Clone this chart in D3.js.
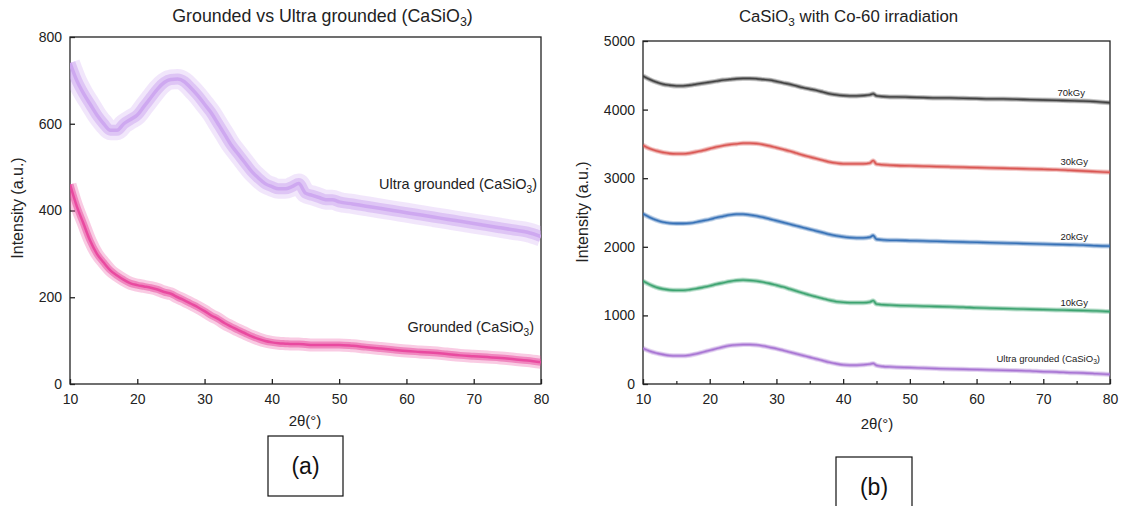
<!DOCTYPE html>
<html><head><meta charset="utf-8">
<script src="https://cdn.jsdelivr.net/npm/d3@7"></script>
<style>body{margin:0;background:#fff}svg{display:block}text{font-family:"Liberation Sans",Arial,sans-serif;fill:#222}</style>
</head><body><svg id="c" width="1122" height="506"></svg>
<script>
// ---------- data ----------
const xTicks = [10,20,30,40,50,60,70,80];
const yTicksA = [0,200,400,600,800];
const yTicksB = [0,1000,2000,3000,4000,5000];

const thetaA = [10,11,12,13,14,15,16,17,18,19,20,21,22,23,24,25,26,27,28,29,30,31,32,33,34,35,36,37,38,39,40,41,42,43,44,45,46,47,48,49,50,52,54,56,58,60,62,64,66,68,70,72,74,76,78,80];
const ultraA = [740,700,670,645,620,600,585,585,600,610,620,640,660,680,695,702,703,697,682,665,645,625,600,575,550,530,510,490,475,462,455,450,450,455,462,440,435,430,425,425,420,415,410,405,400,395,390,385,380,375,370,365,360,355,350,340];
const groundedA = [460,410,370,330,300,280,262,250,240,232,228,225,222,218,212,208,200,193,185,177,168,158,150,140,132,124,117,110,104,99,96,94,93,92,92,91,90,90,90,90,90,88,85,82,79,76,74,72,69,66,64,62,60,57,54,50];

const thetaB = [10,11,12,13,14,15,16,17,18,19,20,21,22,23,24,25,26,27,28,29,30,31,32,33,34,35,36,37,38,39,40,41,42,43,44,44.5,45,46,47,48,50,52,54,56,58,60,62,64,66,68,70,72,74,76,78,80];
const kGy70 = [4490,4440,4400,4370,4355,4345,4345,4355,4370,4385,4400,4415,4430,4440,4450,4455,4455,4450,4440,4430,4410,4390,4370,4345,4320,4300,4280,4255,4230,4215,4205,4200,4200,4205,4215,4230,4200,4190,4185,4185,4180,4175,4170,4170,4165,4160,4155,4155,4150,4145,4140,4135,4130,4125,4115,4100];
const kGy30 = [3480,3430,3400,3375,3360,3355,3355,3365,3385,3405,3430,3455,3475,3490,3500,3510,3510,3505,3490,3470,3445,3420,3395,3365,3335,3310,3285,3260,3235,3220,3210,3210,3210,3210,3220,3255,3205,3195,3190,3185,3180,3175,3170,3165,3160,3155,3150,3145,3140,3135,3130,3125,3115,3105,3095,3085];
const kGy20 = [2480,2430,2390,2360,2345,2340,2340,2345,2360,2380,2400,2425,2445,2465,2475,2475,2465,2450,2430,2405,2380,2355,2330,2305,2280,2255,2230,2205,2180,2160,2145,2135,2130,2130,2140,2165,2110,2100,2095,2095,2090,2085,2080,2075,2070,2065,2060,2055,2050,2045,2040,2035,2030,2025,2015,2010];
const kGy10 = [1500,1450,1410,1385,1370,1365,1365,1375,1390,1410,1430,1455,1475,1495,1510,1515,1510,1500,1485,1465,1440,1415,1385,1355,1325,1295,1270,1245,1220,1200,1190,1185,1185,1185,1195,1215,1165,1155,1150,1145,1140,1135,1130,1125,1120,1110,1105,1100,1095,1090,1085,1080,1075,1070,1065,1055];
const ultraB = [520,480,450,430,415,410,410,420,440,465,490,515,540,560,570,575,575,570,555,535,515,490,465,440,415,390,365,340,315,295,280,275,275,280,290,300,270,255,250,245,240,232,225,220,215,210,205,200,195,190,180,175,165,160,150,140];

const seriesB = [
  {name:"70kGy", values:kGy70, color:"#3a3a3a", label:[1085,96]},
  {name:"30kGy", values:kGy30, color:"#d8504c", label:[1088,165]},
  {name:"20kGy", values:kGy20, color:"#2f6cb4", label:[1088,240]},
  {name:"10kGy", values:kGy10, color:"#35a06a", label:[1088,306]},
  {name:"Ultra grounded (CaSiO|3|)", values:ultraB, color:"#a46fd2", label:[1100,362]}
];

// ---------- helpers ----------
const svg = d3.select("#c");
function richText(sel, str, size){
  const parts = str.split("|");
  parts.forEach((p,i)=>{
    if(!p) return;
    if(i%2===1){
      sel.append("tspan").attr("font-size", size*0.7).attr("dy", size*0.25).text(p);
    } else {
      const t = sel.append("tspan").text(p);
      if(i>0) t.attr("dy", -size*0.25);
    }
  });
  return sel;
}

function panel(o){
  const x = d3.scaleLinear().domain([10,80]).range([o.x0,o.x1]);
  const y = d3.scaleLinear().domain([0,o.ymax]).range([o.y1,o.y0]);
  const g = svg.append("g");
  g.append("rect").attr("x",o.x0).attr("y",o.y0).attr("width",o.x1-o.x0).attr("height",o.y1-o.y0)
    .attr("fill","none").attr("stroke","#222").attr("stroke-width",1.3);
  const xa = g.append("g").attr("transform",`translate(0,${o.y1})`)
    .call(d3.axisBottom(x).tickValues(xTicks).tickSizeInner(-5).tickSizeOuter(0).tickPadding(10).tickFormat(d3.format("d")));
  xa.select(".domain").remove();
  xa.selectAll("text").attr("font-size",14).attr("font-family","Liberation Sans, Arial").attr("fill","#222");
  xa.selectAll("line").attr("stroke","#222").attr("stroke-width",1.3);
  if(o.minor){
    const mx = g.append("g").attr("transform",`translate(0,${o.y1})`)
      .call(d3.axisBottom(x).tickValues(o.minor).tickSizeInner(-3).tickSizeOuter(0).tickFormat(""));
    mx.select(".domain").remove();
    mx.selectAll("line").attr("stroke","#222").attr("stroke-width",1.2);
  }
  const ya = g.append("g").attr("transform",`translate(${o.x0},0)`)
    .call(d3.axisLeft(y).tickValues(o.yTicks).tickSizeInner(-5).tickSizeOuter(0).tickPadding(8).tickFormat(d3.format("d")));
  ya.select(".domain").remove();
  ya.selectAll("text").attr("font-size",14).attr("font-family","Liberation Sans, Arial").attr("fill","#222");
  ya.selectAll("line").attr("stroke","#222").attr("stroke-width",1.3);
  richText(g.append("text").attr("x",(o.x0+o.x1)/2+o.tdx).attr("y",o.ty).attr("text-anchor","middle").attr("font-size",o.tsize), o.title, o.tsize);
  g.append("text").attr("transform",`translate(${o.ylx},${o.yly}) rotate(-90)`).attr("text-anchor","middle")
    .attr("font-size",16).text("Intensity (a.u.)");
  g.append("text").attr("x",o.xlx).attr("y",o.xly).attr("text-anchor","middle").attr("font-size",15).text("2θ(°)");
  return {x,y,g};
}

function band(g, path, color, w1, w2, w3, clip){
  const gg = g.append("g").attr("clip-path",`url(#${clip})`);
  gg.append("path").attr("d",path).attr("fill","none").attr("stroke",color).attr("stroke-width",w1).attr("stroke-opacity",0.28).attr("stroke-linejoin","round");
  gg.append("path").attr("d",path).attr("fill","none").attr("stroke",color).attr("stroke-width",w2).attr("stroke-opacity",0.5).attr("stroke-linejoin","round");
  gg.append("path").attr("d",path).attr("fill","none").attr("stroke",color).attr("stroke-width",w3).attr("stroke-opacity",0.9).attr("stroke-linejoin","round");
}

// ---------- panel (a) ----------
const A = panel({x0:70,x1:541,y0:37,y1:384,ymax:800,yTicks:yTicksA,
  title:"Grounded vs Ultra grounded (CaSiO|3|)", tsize:17.8, ty:22, tdx:17,
  ylx:23, yly:208, xlx:305, xly:426});
svg.append("clipPath").attr("id","ca").append("rect").attr("x",70).attr("y",37).attr("width",471).attr("height",347);
const lineA = (vals)=>d3.line().x((d,i)=>A.x(thetaA[i])).y(d=>A.y(d)).curve(d3.curveMonotoneX)(vals);
band(A.g, lineA(ultraA), "#cca4f0", 20, 11, 3.5, "ca");
band(A.g, lineA(groundedA), "#e8449c", 13, 7, 2.5, "ca");
richText(A.g.append("text").attr("x",537).attr("y",189).attr("text-anchor","end").attr("font-size",14.5), "Ultra grounded (CaSiO|3|)", 14.5);
richText(A.g.append("text").attr("x",534).attr("y",332).attr("text-anchor","end").attr("font-size",14.5), "Grounded (CaSiO|3|)", 14.5);

// ---------- panel (b) ----------
const B = panel({x0:643,x1:1110,y0:41,y1:384,ymax:5000,yTicks:yTicksB,minor:[15,25,35,45,55,65,75],
  title:"CaSiO|3| with Co-60 irradiation", tsize:16.8, ty:22, tdx:-28,
  ylx:588, yly:212, xlx:877, xly:429});
svg.append("clipPath").attr("id","cb").append("rect").attr("x",643).attr("y",41).attr("width",467).attr("height",343);
const lineB = (vals)=>d3.line().x((d,i)=>B.x(thetaB[i])).y(d=>B.y(d)).curve(d3.curveMonotoneX)(vals);
seriesB.forEach(s=>{
  band(B.g, lineB(s.values), s.color, 5, 3, 1.3, "cb");
  richText(B.g.append("text").attr("x",s.label[0]).attr("y",s.label[1]).attr("text-anchor","end").attr("font-size",9.5), s.name, 9.5);
});

// ---------- (a) (b) boxes ----------
const boxes = [{t:"(a)",x:268,y:436,w:75,h:60},{t:"(b)",x:836,y:457,w:76,h:60}];
boxes.forEach(b=>{
  svg.append("rect").attr("x",b.x).attr("y",b.y).attr("width",b.w).attr("height",b.h).attr("fill","#fff").attr("stroke","#111").attr("stroke-width",1.2);
  svg.append("text").attr("x",b.x+b.w/2).attr("y",b.y+b.h/2+8).attr("text-anchor","middle")
    .attr("font-family","Lato, 'Open Sans', sans-serif").attr("font-size",23).style("fill","#111").text(b.t);
});
</script></body></html>
